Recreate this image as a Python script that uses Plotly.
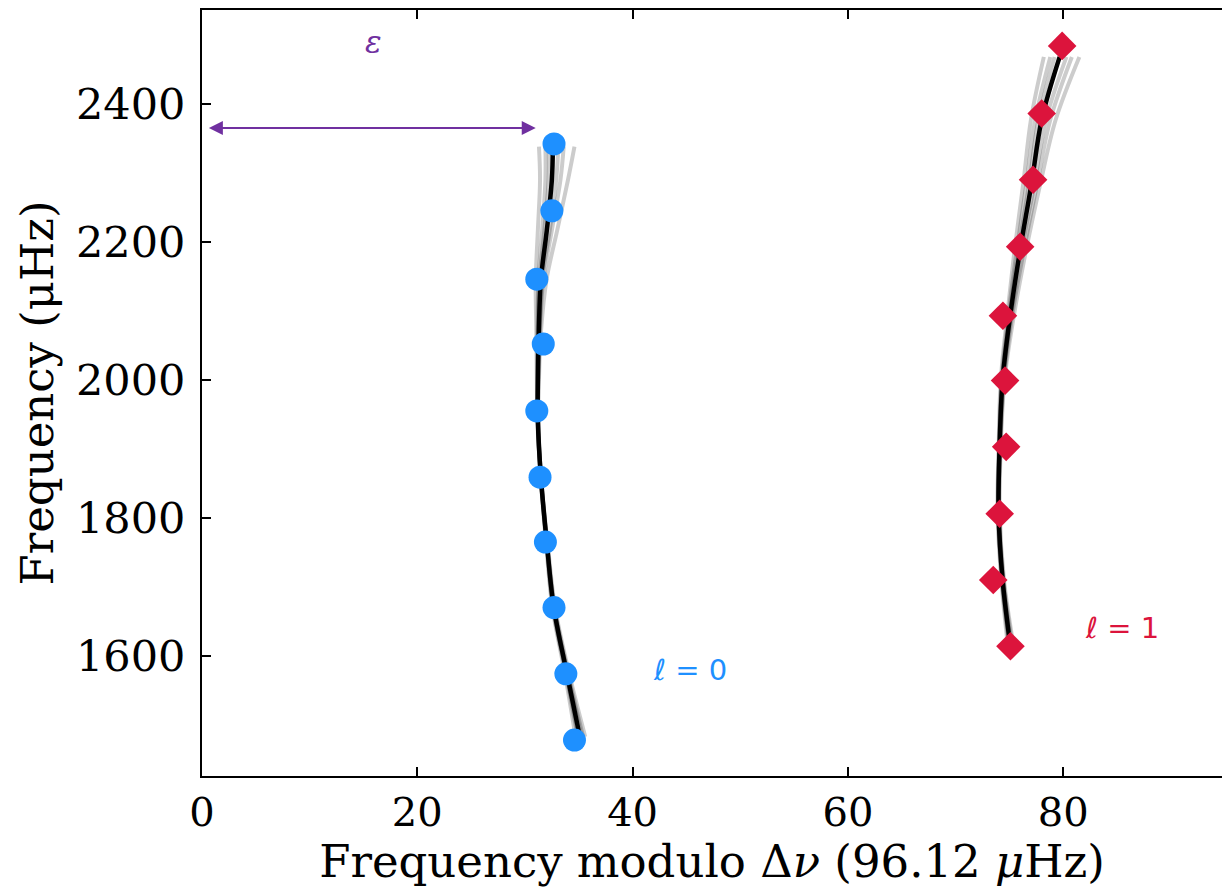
import plotly.graph_objects as go

# ---- data ----
l0_mod = [32.7, 32.5, 31.1, 31.7, 31.1, 31.4, 31.9, 32.7, 33.8, 34.6]
l0_freq = [2342, 2245, 2146, 2052, 1955, 1859, 1765, 1670, 1574, 1478]

l1_mod = [79.9, 78.0, 77.2, 76.0, 74.4, 74.6, 74.7, 74.1, 73.5, 75.1]
l1_freq = [2484, 2386, 2290, 2193, 2093, 1999, 1903, 1806, 1710, 1614]

# best-fit model curves
l0_fit_freq = [2338, 2290, 2217, 2145, 2072, 2000, 1942, 1859, 1764, 1670, 1575, 1483]
l0_fit_mod = [32.59, 32.50, 32.03, 31.48, 31.29, 31.20, 31.20, 31.48, 32.03, 32.68, 33.89, 35.10]
l1_fit_freq = [2468, 2377, 2286, 2184, 2087, 2000, 1903, 1807, 1710, 1623]
l1_fit_mod = [79.67, 78.0, 77.07, 75.95, 75.02, 74.37, 74.09, 74.0, 74.37, 75.02]

# posterior sample curves (grey)
l0_samples = [
    [34.6, 34.0, 33.0, 32.0, 31.5, 31.3, 31.25, 31.5, 32.1, 32.8, 34.1, 35.6],
    [31.3, 31.4, 31.2, 31.0, 31.05, 31.1, 31.15, 31.45, 31.95, 32.55, 33.7, 34.7],
    [33.6, 33.3, 32.5, 31.7, 31.4, 31.25, 31.22, 31.5, 32.05, 32.75, 34.0, 35.4],
    [31.9, 31.9, 31.6, 31.25, 31.15, 31.15, 31.18, 31.46, 32.0, 32.6, 33.8, 34.9],
    [33.1, 32.9, 32.3, 31.6, 31.35, 31.22, 31.2, 31.49, 32.04, 32.7, 33.95, 35.25],
    [32.2, 32.2, 31.8, 31.35, 31.2, 31.17, 31.19, 31.47, 32.02, 32.64, 33.85, 35.0],
]
l1_samples = [
    [81.5, 79.3, 77.9, 76.5, 75.35, 74.55, 74.2, 74.1, 74.5, 75.3],
    [78.2, 77.0, 76.3, 75.45, 74.75, 74.2, 74.0, 73.9, 74.25, 74.8],
    [80.8, 78.8, 77.6, 76.3, 75.2, 74.5, 74.15, 74.05, 74.45, 75.2],
    [78.8, 77.4, 76.6, 75.65, 74.85, 74.28, 74.04, 73.95, 74.3, 74.9],
    [80.3, 78.4, 77.35, 76.1, 75.1, 74.43, 74.12, 74.02, 74.4, 75.1],
    [79.2, 77.7, 76.85, 75.8, 74.95, 74.32, 74.06, 73.98, 74.33, 74.95],
]

x_ticks = [0, 20, 40, 60, 80]
y_ticks = [1600, 1800, 2000, 2200, 2400]
eps_arrow_x = [0.5, 31.0]
eps_arrow_y = 2365

BLUE = "#1E90FF"
RED = "#DC143C"
PURPLE = "#7030A0"
SERIF = "DejaVu Serif"

fig = go.Figure()

for s in l0_samples:
    fig.add_trace(go.Scatter(x=s, y=l0_fit_freq, mode="lines", line=dict(color="rgba(0,0,0,0.2)", width=4, shape="spline"),
                             showlegend=False, hoverinfo="skip"))
for s in l1_samples:
    fig.add_trace(go.Scatter(x=s, y=l1_fit_freq, mode="lines", line=dict(color="rgba(0,0,0,0.2)", width=4, shape="spline"),
                             showlegend=False, hoverinfo="skip"))

fig.add_trace(go.Scatter(x=l0_fit_mod, y=l0_fit_freq, mode="lines", line=dict(color="black", width=4.5, shape="spline"),
                         showlegend=False))
fig.add_trace(go.Scatter(x=l1_fit_mod, y=l1_fit_freq, mode="lines", line=dict(color="black", width=4.5, shape="spline"),
                         showlegend=False))

fig.add_trace(go.Scatter(x=l0_mod, y=l0_freq, mode="markers",
                         marker=dict(symbol="circle", size=23, color=BLUE, line=dict(width=0)), showlegend=False))
fig.add_trace(go.Scatter(x=l1_mod, y=l1_freq, mode="markers",
                         marker=dict(symbol="diamond", size=22, color=RED, line=dict(width=0)), showlegend=False))

# epsilon arrow
fig.add_annotation(x=eps_arrow_x[1], y=eps_arrow_y, ax=eps_arrow_x[0], ay=eps_arrow_y,
                   xref="x", yref="y", axref="x", ayref="y", text="", showarrow=True,
                   arrowhead=2, startarrowhead=2, arrowside="end+start", arrowsize=1.4, startarrowsize=1.4,
                   arrowwidth=2, arrowcolor=PURPLE, standoff=0, startstandoff=0)
fig.add_annotation(x=15.9, y=2490, xref="x", yref="y", text="<i>ε</i>", showarrow=False,
                   font=dict(family=SERIF, size=31, color=PURPLE))
fig.add_annotation(x=45.3, y=1580, xref="x", yref="y", text="<i>ℓ</i> = 0", showarrow=False,
                   font=dict(family="DejaVu Sans", size=29, color=BLUE))
fig.add_annotation(x=85.5, y=1641, xref="x", yref="y", text="<i>ℓ</i> = 1", showarrow=False,
                   font=dict(family="DejaVu Sans", size=29, color=RED))

fig.update_layout(
    width=1222, height=891,
    margin=dict(l=202, r=0, t=10, b=115),
    paper_bgcolor="white", plot_bgcolor="white",
    font=dict(family=SERIF, color="black"),
    showlegend=False,
)
fig.update_xaxes(
    range=[0, 94.75], tickmode="array", tickvals=x_ticks, ticktext=[str(v) for v in x_ticks],
    ticks="inside", ticklen=9, tickwidth=2, tickcolor="black",
    showline=True, linecolor="black", linewidth=2, mirror="allticks",
    showgrid=False, zeroline=False,
    tickfont=dict(family=SERIF, size=40),
    title=dict(text="Frequency modulo Δ<i>ν</i> (96.12 <i>μ</i>Hz)", font=dict(family=SERIF, size=45), standoff=5),
)
fig.update_yaxes(
    range=[1426, 2536], tickmode="array", tickvals=y_ticks, ticktext=[str(v) for v in y_ticks],
    ticks="inside", ticklen=9, tickwidth=2, tickcolor="black",
    showline=True, linecolor="black", linewidth=2, mirror=False,
    showgrid=False, zeroline=False,
    tickfont=dict(family=SERIF, size=43), ticklabelstandoff=6,
    title=dict(text="Frequency (μHz)", font=dict(family=SERIF, size=45), standoff=8),
)

fig.write_html("out.html")
